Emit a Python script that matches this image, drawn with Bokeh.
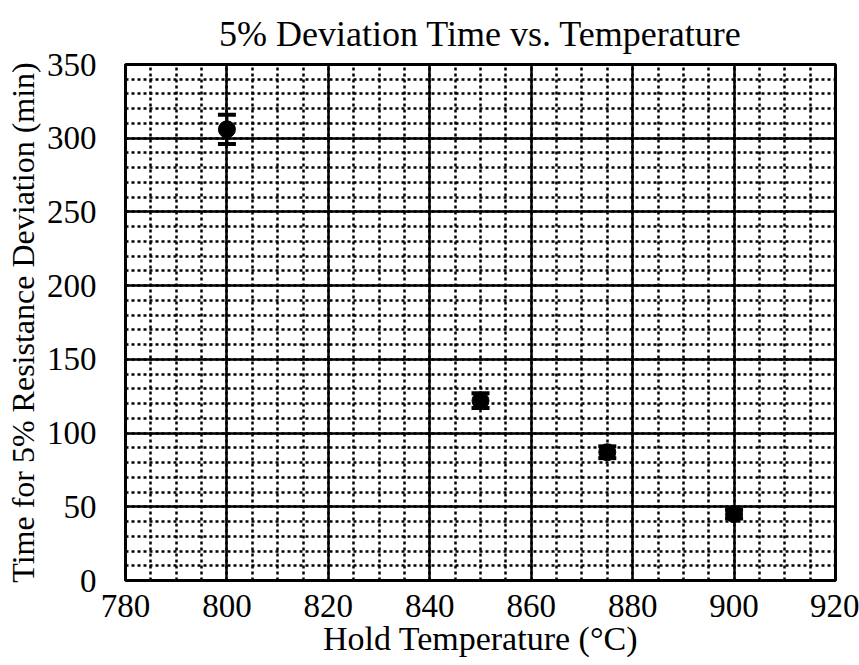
from bokeh.plotting import figure
from bokeh.models import ColumnDataSource, Whisker, TeeHead, FixedTicker, Range1d
from bokeh.embed import file_html
from bokeh.resources import INLINE

# Data
hold_temp = [800, 850, 875, 900]
dev_time = [306, 122, 87, 45]
dev_err = [10, 5, 4, 3]
x_ticks = [780, 800, 820, 840, 860, 880, 900, 920]
y_ticks = [0, 50, 100, 150, 200, 250, 300, 350]

FONT = "Liberation Serif"

src = ColumnDataSource(dict(
    x=hold_temp, y=dev_time,
    lo=[v - e for v, e in zip(dev_time, dev_err)],
    hi=[v + e for v, e in zip(dev_time, dev_err)],
))

p = figure(width=859, height=665, output_backend="svg", toolbar_location=None,
           x_range=Range1d(780, 920), y_range=Range1d(0, 350),
           min_border_left=125, min_border_right=24, min_border_top=64,
           min_border_bottom=85)

p.title.text = "5% Deviation Time vs. Temperature"
p.title.text_font = FONT
p.title.text_font_size = "36px"
p.title.text_font_style = "normal"
p.title.text_color = "black"
p.title.align = "center"
p.title.standoff = 22

p.xaxis.ticker = FixedTicker(ticks=x_ticks, minor_ticks=list(range(780, 921, 5)))
p.yaxis.ticker = FixedTicker(ticks=y_ticks, minor_ticks=list(range(0, 351, 10)))

for ax in (p.xaxis, p.yaxis):
    ax.major_label_text_font = FONT
    ax.major_label_text_font_size = "33px"
    ax.major_label_text_color = "black"
    ax.axis_label_text_font = FONT
    ax.axis_label_text_font_style = "normal"
    ax.axis_label_text_color = "black"
    ax.major_tick_line_color = None
    ax.minor_tick_line_color = None
    ax.axis_line_color = None

p.xaxis.axis_label_text_font_size = "34px"
p.yaxis.axis_label_text_font_size = "32px"
p.xaxis.axis_label = "Hold Temperature (°C)"
p.yaxis.axis_label = "Time for 5% Resistance Deviation (min)"
p.xaxis.major_label_standoff = 8
p.yaxis.major_label_standoff = 23
p.xaxis.axis_label_standoff = 0
p.yaxis.axis_label_standoff = 3

p.outline_line_color = "black"
p.outline_line_width = 3

for g in (p.xgrid, p.ygrid):
    g.grid_line_color = "black"
    g.grid_line_width = 2.5
    g.grid_line_alpha = 1
    g.minor_grid_line_color = "black"
    g.minor_grid_line_width = 2.5
    g.minor_grid_line_dash = "3 3"
    g.minor_grid_line_alpha = 1

p.add_layout(Whisker(source=src, base="x", lower="lo", upper="hi",
                     line_color="black", line_width=3,
                     upper_head=TeeHead(size=18, line_color="black", line_width=4),
                     lower_head=TeeHead(size=18, line_color="black", line_width=4)))
p.scatter("x", "y", source=src, size=17, fill_color="black", line_color="black")

open("out.html", "w").write(file_html(p, INLINE))
